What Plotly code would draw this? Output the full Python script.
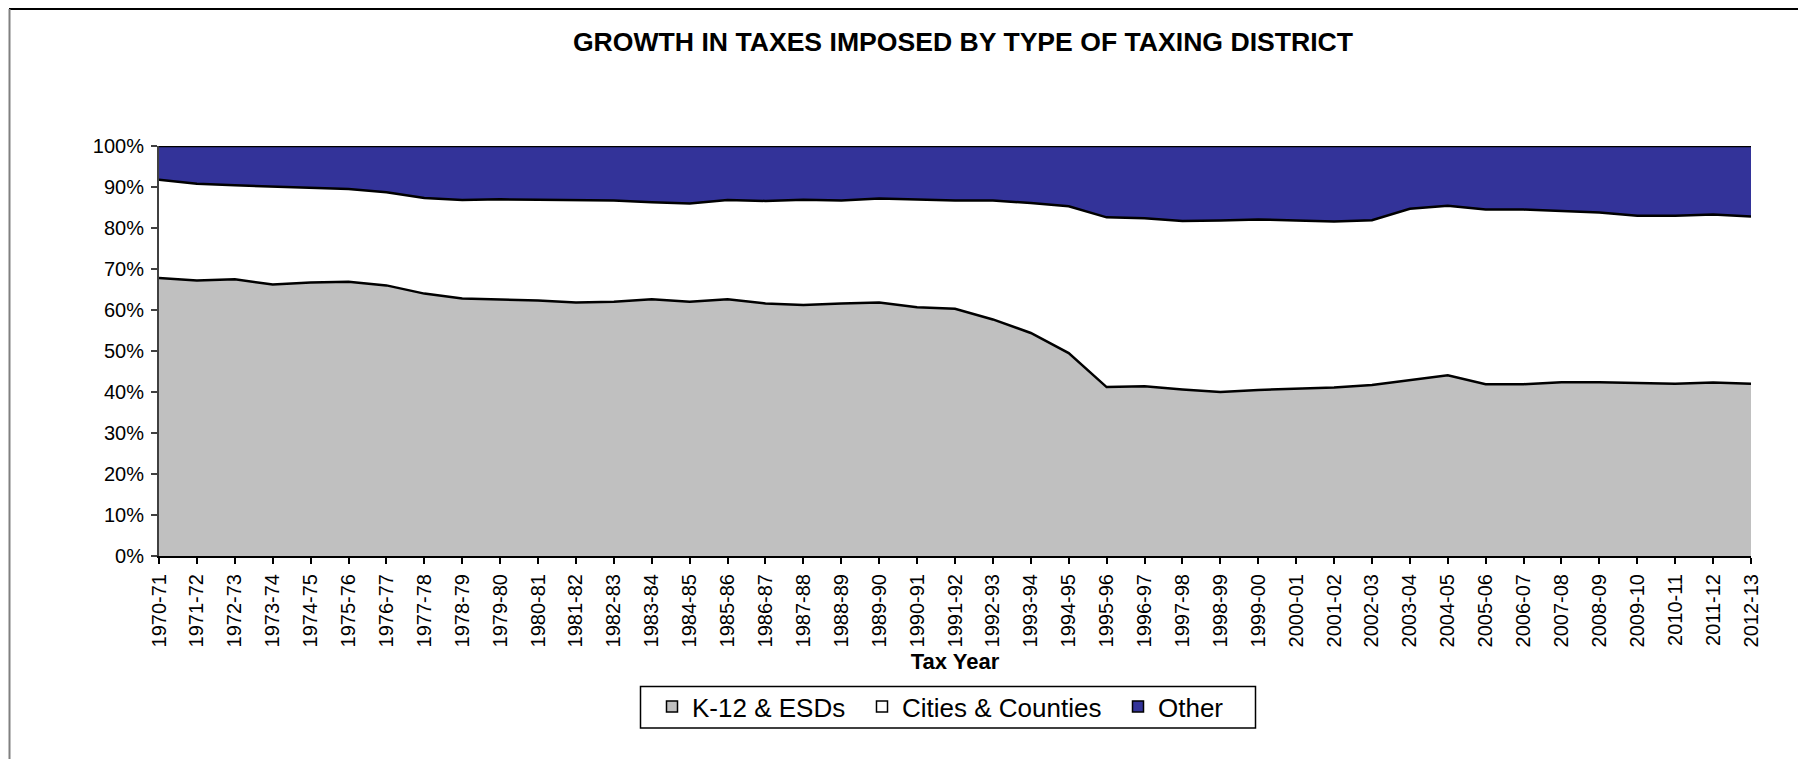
import plotly.graph_objects as go

years = ["1970-71", "1971-72", "1972-73", "1973-74", "1974-75", "1975-76", "1976-77",
         "1977-78", "1978-79", "1979-80", "1980-81", "1981-82", "1982-83", "1983-84",
         "1984-85", "1985-86", "1986-87", "1987-88", "1988-89", "1989-90", "1990-91",
         "1991-92", "1992-93", "1993-94", "1994-95", "1995-96", "1996-97", "1997-98",
         "1998-99", "1999-00", "2000-01", "2001-02", "2002-03", "2003-04", "2004-05",
         "2005-06", "2006-07", "2007-08", "2008-09", "2009-10", "2010-11", "2011-12",
         "2012-13"]

k12_esds = [67.8, 67.2, 67.5, 66.2, 66.7, 66.9, 66.0, 64.0, 62.8, 62.6, 62.3, 61.8, 62.0,
            62.6, 62.0, 62.6, 61.6, 61.2, 61.6, 61.8, 60.7, 60.3, 57.7, 54.4, 49.5, 41.2,
            41.4, 40.6, 40.0, 40.5, 40.8, 41.1, 41.7, 42.9, 44.1, 41.9, 41.9, 42.4, 42.4,
            42.2, 42.0, 42.3, 42.0]

cities_counties = [24.0, 23.6, 22.9, 23.9, 23.0, 22.6, 22.7, 23.3, 24.0, 24.4, 24.6, 25.0,
                   24.7, 23.7, 24.0, 24.2, 25.0, 25.7, 25.1, 25.4, 26.3, 26.4, 29.0, 31.7,
                   35.8, 41.4, 41.0, 41.1, 41.8, 41.6, 41.0, 40.5, 40.2, 41.8, 41.3, 42.6,
                   42.6, 41.7, 41.4, 40.8, 41.0, 41.0, 40.8]

other = [8.2, 9.2, 9.6, 9.9, 10.3, 10.5, 11.3, 12.7, 13.2, 13.0, 13.1, 13.2, 13.3, 13.7,
         14.0, 13.2, 13.4, 13.1, 13.3, 12.8, 13.0, 13.3, 13.3, 13.9, 14.7, 17.4, 17.6, 18.3,
         18.2, 17.9, 18.2, 18.4, 18.1, 15.3, 14.6, 15.5, 15.5, 15.9, 16.2, 17.0, 17.0, 16.7,
         17.2]

y_ticks = [0, 10, 20, 30, 40, 50, 60, 70, 80, 90, 100]
y_tick_labels = ["0%", "10%", "20%", "30%", "40%", "50%", "60%", "70%", "80%", "90%", "100%"]

series = [("K-12 & ESDs", k12_esds, "#C0C0C0"),
          ("Cities & Counties", cities_counties, "#FFFFFF"),
          ("Other", other, "#333399")]

FONT = "Liberation Sans, Arial, sans-serif"
legend_ids = ["legend", "legend2", "legend3"]

fig = go.Figure()
for name, vals, col in series:
    fig.add_trace(go.Scatter(
        x=years, y=vals, name=name, stackgroup="one",
        mode="lines", line=dict(color="black", width=2.5), fillcolor=col,
        showlegend=False, hoverinfo="x+y+name"))
# legend entries with square swatches (one legend per entry for exact spacing)
for (name, vals, col), lg in zip(series, legend_ids):
    fig.add_trace(go.Scatter(
        x=[None], y=[None], name=name, mode="markers", legend=lg,
        marker=dict(symbol="square", size=11, color=col,
                    line=dict(color="black", width=1.5)),
        showlegend=True))

# figure coordinates (page has an 8px body offset)
W, H = 1806, 759
L, R, T, B = 151, 1743, 138, 548
pw, ph = R - L, B - T

def px(x):
    return (x - L) / pw

def py(y):
    return (B - y) / ph

def legend_box(left):
    return dict(orientation="h", x=px(left), xanchor="left", y=py(698.5),
                yanchor="middle", borderwidth=0, bgcolor="rgba(0,0,0,0)",
                font=dict(size=26, family=FONT, color="black"), itemwidth=30)

n = len(years)
fig.update_layout(
    width=W, height=H,
    margin=dict(l=L, r=W - R, t=T, b=H - B),
    paper_bgcolor="white", plot_bgcolor="white",
    font=dict(family=FONT, color="black", size=20),
    title=dict(text="<b>GROWTH IN TAXES IMPOSED BY TYPE OF TAXING DISTRICT</b>",
               font=dict(family=FONT, size=26.6, color="black"),
               x=955 / W, xanchor="center", xref="container",
               y=1 - 34 / H, yanchor="middle", yref="container"),
    xaxis=dict(type="category", categoryorder="array", categoryarray=years,
               range=[0, n - 1], tickangle=-90, ticks="outside", ticklen=6,
               tickcolor="black", tickwidth=1.5, showline=True, linecolor="black",
               linewidth=2, showgrid=False, zeroline=False,
               tickfont=dict(size=20), ticklabelstandoff=2,
               title=dict(text="<b>Tax Year</b>", font=dict(size=22), standoff=7)),
    xaxis2=dict(overlaying="x", range=[0, n - 1], tickmode="array",
                tickvals=list(range(n)), ticks="inside", ticklen=6, tickcolor="black",
                tickwidth=1.5, showticklabels=False, showgrid=False, zeroline=False,
                showline=False, anchor="y"),
    yaxis=dict(range=[0, 100], tickmode="array", tickvals=y_ticks, ticktext=y_tick_labels,
               ticks="outside", ticklen=6, tickcolor="#404040", tickwidth=1.5,
               showline=True, linecolor="#404040", linewidth=2, showgrid=False,
               zeroline=False, tickfont=dict(size=20), ticklabelstandoff=3),
    yaxis2=dict(overlaying="y", range=[0, 100], tickmode="array", tickvals=y_ticks,
                ticks="inside", ticklen=6, tickcolor="#404040", tickwidth=1.5,
                showticklabels=False, showgrid=False, zeroline=False, showline=False,
                side="left", anchor="x"),
    yaxis3=dict(overlaying="y", range=[0, 100], side="right", showline=True,
                linecolor="black", linewidth=2, ticks="", showticklabels=False,
                showgrid=False, zeroline=False, anchor="x"),
    legend=legend_box(644),
    legend2=legend_box(854),
    legend3=legend_box(1110),
    shapes=[
        # legend frame
        dict(type="rect", xref="paper", yref="paper", x0=px(632.5), x1=px(1247.5),
             y0=py(678.5), y1=py(720), line=dict(color="black", width=1.5),
             fillcolor="white", layer="below"),
        # chart-area frame
        dict(type="line", xref="paper", yref="paper", x0=px(1), x1=px(1806),
             y0=py(1), y1=py(1), line=dict(color="black", width=2)),
        dict(type="line", xref="paper", yref="paper", x0=px(1.5), x1=px(1.5),
             y0=py(1), y1=py(770), line=dict(color="#808080", width=2)),
        dict(type="line", xref="paper", yref="paper", x0=px(1796), x1=px(1796),
             y0=py(2), y1=py(770), line=dict(color="#E0E0E0", width=2)),
    ],
    showlegend=True,
)

fig.write_html("out.html")
